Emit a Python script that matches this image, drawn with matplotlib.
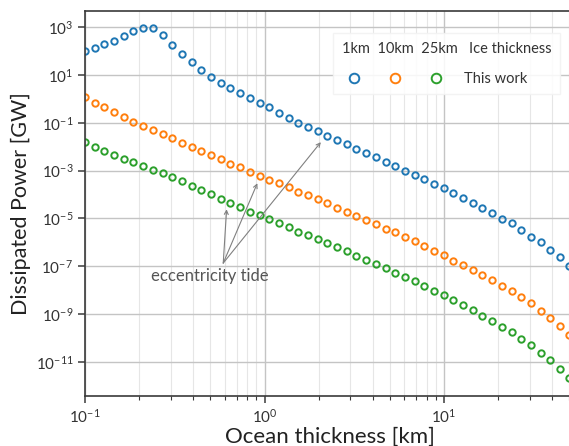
import numpy as np
import matplotlib
matplotlib.use("Agg")
import matplotlib.pyplot as plt
from matplotlib.lines import Line2D
from matplotlib.ticker import NullLocator, NullFormatter

FONT = 'Lato'
plt.rcParams['font.family'] = [FONT, 'DejaVu Sans']
plt.rcParams['mathtext.fontset'] = 'custom'
plt.rcParams['mathtext.rm'] = FONT
plt.rcParams['mathtext.it'] = FONT + ':italic'
plt.rcParams['mathtext.bf'] = FONT + ':bold'

# ocean thickness grid [km]
thickness = [0.1, 0.1132, 0.1282, 0.1452, 0.1645, 0.1862, 0.2109, 0.2388, 0.2705, 0.3063,
             0.3468, 0.3928, 0.4448, 0.5037, 0.5704, 0.6459, 0.7314, 0.8283, 0.938, 1.062,
             1.203, 1.362, 1.542, 1.747, 1.978, 2.24, 2.536, 2.872, 3.253, 3.683,
             4.171, 4.723, 5.349, 6.057, 6.859, 7.767, 8.796, 9.961, 11.28, 12.77,
             14.47, 16.38, 18.55, 21.01, 23.79, 26.94, 30.51, 34.55, 39.12, 44.3, 50.0]

# dissipated power [GW], ice shell 1 km
power_1km = [1.05e2, 1.4e2, 1.95e2, 2.75e2, 4.5e2, 6.8e2, 9.1e2, 9.1e2, 4.9e2, 1.86e2,
             7.4e1, 3.5e1, 1.6e1, 8.5, 4.8, 2.9, 1.8, 1.1, 6.8e-1, 4.4e-1,
             2.5e-1, 1.55e-1, 1.0e-1, 6.8e-2, 4.5e-2, 2.9e-2, 1.9e-2, 1.26e-2, 8.3e-3, 5.5e-3,
             3.6e-3, 2.4e-3, 1.6e-3, 9.3e-4, 6.8e-4, 4.4e-4, 2.75e-4, 1.8e-4, 1.12e-4, 7.2e-5,
             4.6e-5, 2.75e-5, 1.66e-5, 9.8e-6, 6.3e-6, 3.3e-6, 1.74e-6, 9.8e-7, 4.8e-7, 2.4e-7, 1.0e-7]

# ice shell 10 km
power_10km = [1.15, 6.9e-1, 4.4e-1, 2.75e-1, 1.78e-1, 1.12e-1, 7.6e-2, 5.0e-2, 3.3e-2, 2.24e-2,
              1.41e-2, 9.5e-3, 6.5e-3, 4.4e-3, 3.0e-3, 1.95e-3, 1.35e-3, 9.1e-4, 6.2e-4, 4.2e-4,
              2.9e-4, 2.0e-4, 1.32e-4, 9.3e-5, 6.3e-5, 4.2e-5, 2.75e-5, 1.86e-5, 1.26e-5, 8.7e-6,
              5.8e-6, 3.7e-6, 2.6e-6, 1.7e-6, 1.12e-6, 7.1e-7, 4.5e-7, 2.9e-7, 1.7e-7, 1.17e-7,
              7.2e-8, 4.4e-8, 2.6e-8, 1.55e-8, 8.9e-9, 5.2e-9, 2.8e-9, 1.38e-9, 6.6e-10, 3.2e-10, 1.35e-10]

# ice shell 25 km
power_25km = [1.55e-2, 9.5e-3, 6.6e-3, 4.6e-3, 3.2e-3, 2.3e-3, 1.6e-3, 1.1e-3, 7.8e-4, 5.2e-4,
              3.6e-4, 2.3e-4, 1.55e-4, 1.0e-4, 6.6e-5, 4.4e-5, 3.0e-5, 1.9e-5, 1.35e-5, 9.3e-6,
              6.3e-6, 4.2e-6, 2.8e-6, 2.0e-6, 1.35e-6, 9.1e-7, 6.2e-7, 4.3e-7, 2.7e-7, 1.8e-7,
              1.2e-7, 8.3e-8, 5.4e-8, 3.5e-8, 2.3e-8, 1.5e-8, 9.5e-9, 6.3e-9, 3.8e-9, 2.3e-9,
              1.45e-9, 8.5e-10, 5.0e-10, 2.9e-10, 1.74e-10, 9.1e-11, 4.8e-11, 2.4e-11, 1.17e-11, 5.0e-12, 2.1e-12]

series = [(power_1km, 'tab:blue'), (power_10km, 'tab:orange'), (power_25km, 'tab:green')]
yticks = [1e3, 1e1, 1e-1, 1e-3, 1e-5, 1e-7, 1e-9, 1e-11]

# annotation anchor and arrow targets
tide_label = (0.497, 8.5e-8)
tide_tail = (0.589, 1.35e-7)
tide_heads = [(0.615, 2.4e-5), (0.912, 2.95e-4), (2.06, 1.55e-2)]

fig = plt.figure(figsize=(5.69, 4.46), dpi=100)
# right edge of axes runs just past the canvas, as in the cropped original
ax = fig.add_axes([0.1494, 0.1128, 0.8612, 0.8626])

handles = []
for vals, col in series:
    h, = ax.plot(thickness, vals, ls='none', marker='o', mfc='none', mec=col,
                 ms=4.6, mew=1.4)
    handles.append(h)

ax.set_xscale('log')
ax.set_yscale('log')
ax.set_xlim(0.1, 53.7)
ax.set_ylim(10**-12.42, 10**3.68)
ax.set_yticks(yticks)
ax.yaxis.set_minor_locator(NullLocator())
ax.xaxis.set_minor_formatter(NullFormatter())

ax.set_axisbelow(True)
ax.grid(which='major', color='#c4c4c4', lw=1.0)
ax.grid(which='minor', axis='x', color='#e6e6e6', lw=0.8)
for s in ['left', 'bottom', 'top', 'right']:
    ax.spines[s].set_color('#3a3a3a')
    ax.spines[s].set_linewidth(1.2)
ax.tick_params(which='major', length=5, width=1.1, color='#3a3a3a',
               labelsize=11, labelcolor='#333333')
ax.tick_params(which='minor', length=3, width=0.8, color='#3a3a3a')

ax.set_xlabel('Ocean thickness [km]', fontsize=16, color='#222222', labelpad=1)
ax.set_ylabel('Dissipated Power [GW]', fontsize=15.5, color='#222222', labelpad=3)

# eccentricity tide annotation
ax.text(tide_label[0], tide_label[1], 'eccentricity tide', ha='center', va='top',
        fontsize=12, color='#555555')
for hx, hy in tide_heads:
    ax.annotate('', xy=(hx, hy), xytext=tide_tail,
                arrowprops=dict(arrowstyle='->', color='#808080', lw=0.8,
                                mutation_scale=7, shrinkA=0, shrinkB=0))

blank = Line2D([], [], ls='none', marker=None)
leg = ax.legend(handles + [blank], ['', '', '', 'This work'], ncol=4,
                title='1km  10km  25km   Ice thickness', alignment='left',
                loc='upper left', bbox_to_anchor=(0.506, 0.943),
                fontsize=10.5, title_fontsize=10.5, markerscale=1.5,
                handlelength=1.71, handletextpad=-1.75, columnspacing=2.85,
                labelspacing=1.1, borderpad=0.6, borderaxespad=0,
                frameon=True, fancybox=False, framealpha=0.85,
                facecolor='white', edgecolor='#f2f2f2')
for t in leg.get_texts():
    t.set_color('#333333')
leg.get_title().set_color('#333333')

fig.savefig('out.png', dpi=100)
